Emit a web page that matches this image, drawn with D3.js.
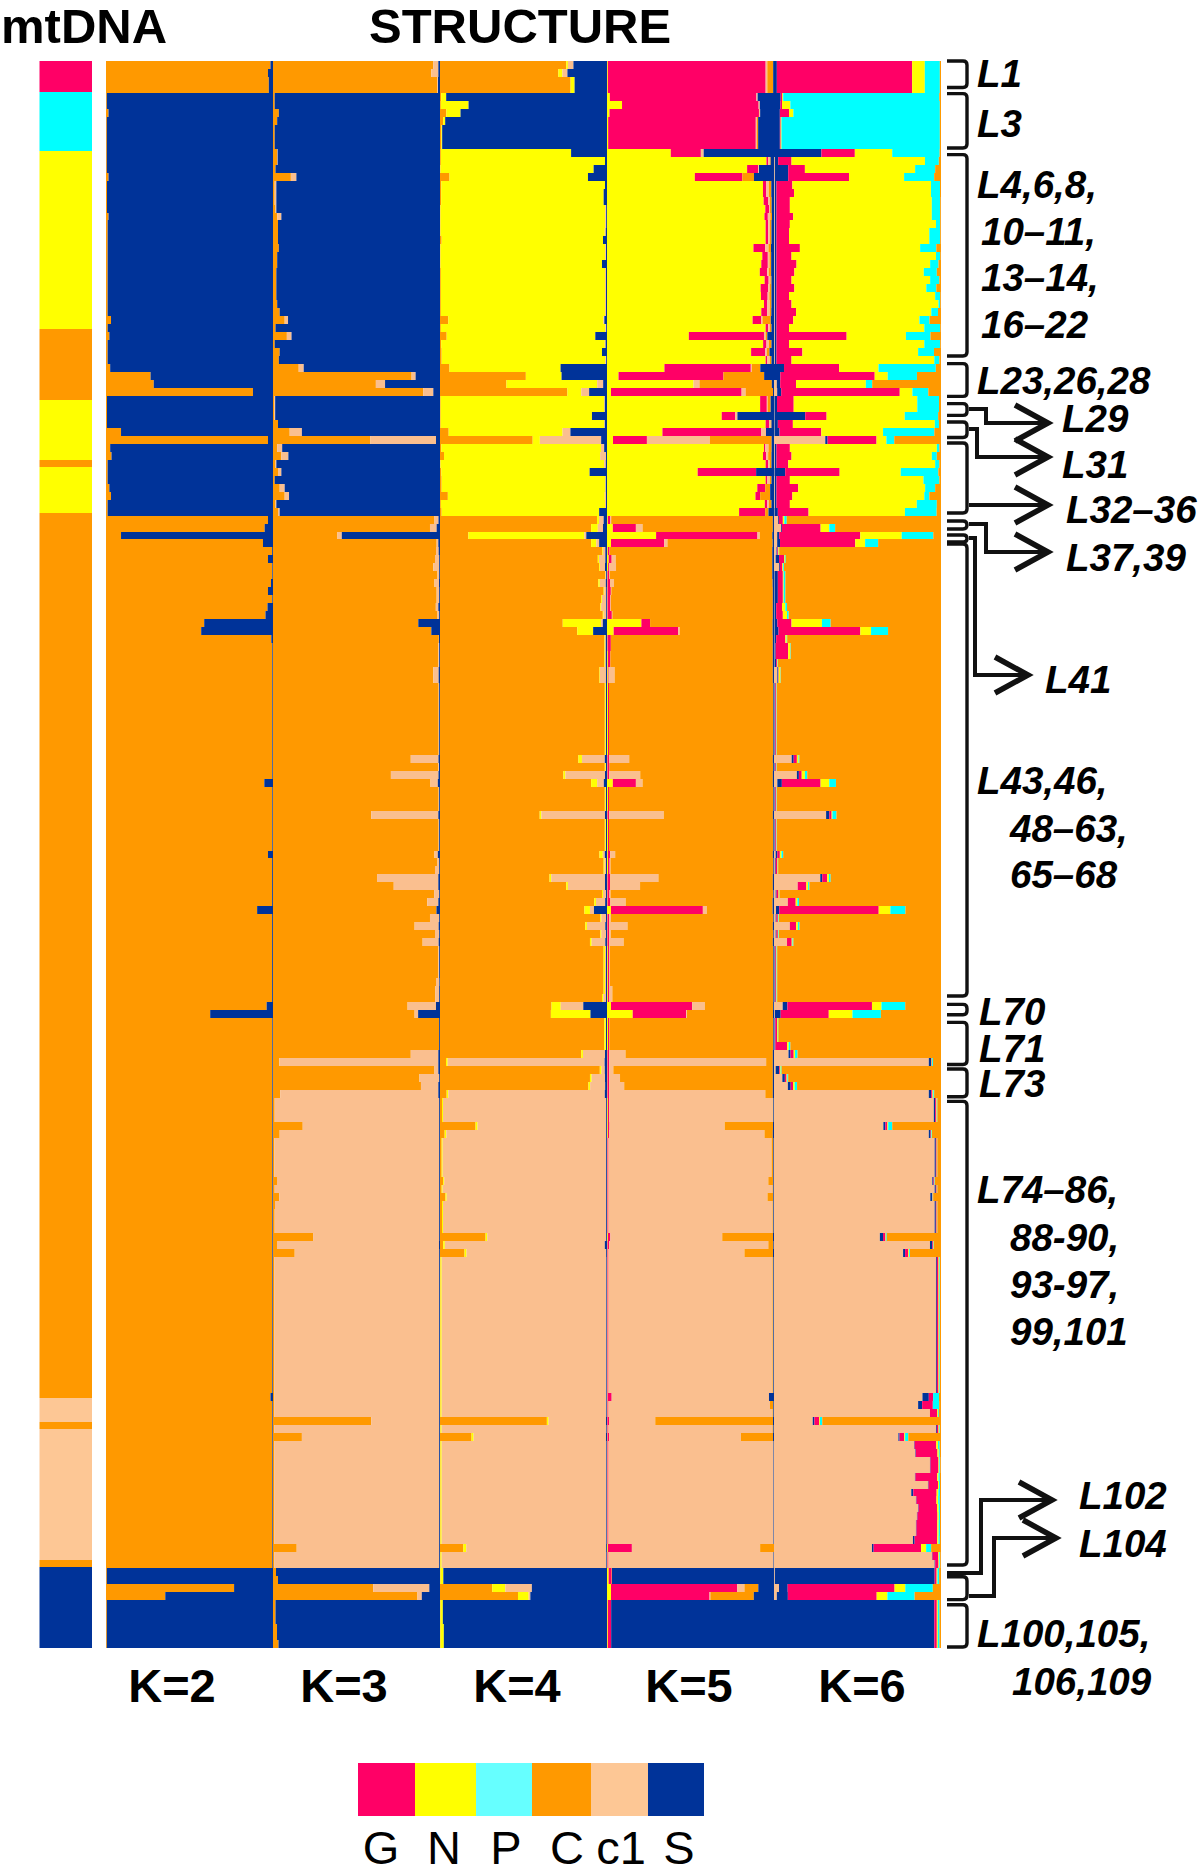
<!DOCTYPE html>
<html><head><meta charset="utf-8"><style>
html,body{margin:0;padding:0;background:#fff}
text{font-family:"Liberation Sans",Arial,sans-serif;fill:#000}
</style><script src="https://cdnjs.cloudflare.com/ajax/libs/d3/7.8.5/d3.min.js"></script></head><body>
<svg id="c" width="1200" height="1875"></svg>
<script>
const clusterColor = {G:"#ff0066",N:"#ffff00",P:"#00ffff",C:"#ff9900",c1:"#fabf8f",S:"#003399"};
const legendKeys = ["G","N","P","C","c1","S"];
const legendColor = ["#ff0066","#ffff00","#66ffff","#ff9900","#fdc795","#003399"];
const panelNames = ["K=2","K=3","K=4","K=5","K=6"];
// run-length rows: [row count, then share of each cluster]
const mtDNA = [["G",3.9],["P",7.4],["N",22.3],["C",8.9],["N",7.5],["C",.9],["N",5.8],["C",111],["c1",3],["C",.9],["c1",16.4],["C",.9],["S",10.1]];
const orderK2 = ["C","S"];
const rowsK2 = [[1,98.5,1.5],[1,97,3],[2,97.5,2.5],[2,.5,99.5],[1,1.5,98.5],[7,.5,99.5],[1,1.5,98.5],[4,.6,99.4],[1,1.5,98.5],[12,1,99],[1,3,97],[1,1,99],[1,2,98],[3,1,99],[1,2.5,97.5],[1,26.7,73.3],[1,28.6,71.4],[1,88,12],[4,.6,99.4],[1,9,91],[1,97,3],[1,2.5,97.5],[1,3.3,96.7],[3,1,99],[1,2,98],[1,3,97],[2,1,99],
[1,97,3],[1,95,5],[1,9,91],[1,94,6],[1,99.5,.5],[1,97,3],[2,99.6,.4],[1,98.8,1.2],[1,97,3],[1,99.6,.4],[1,96.7,3.3],[1,95.5,4.5],[1,58.8,41.2],[1,57,43],[1,99,1],[17,99.6,.4],[1,94.8,5.2],[8,99.6,.4],[1,97,3],[6,99.5,.5],[1,90.5,9.5],[11,99.5,.5],[1,96.2,3.8],[1,62.4,37.6],[47,99.6,.4],[1,98.5,1.5],[21,99.6,.4],[2,.5,99.5],[1,76.7,23.3],[1,35.5,64.5],[6,.5,99.5]];
const orderK3 = ["C","c1","S"];
const rowsK3 = [[1,96,3,1],[1,94.8,4.2,1],[2,98.3,.5,1.2],[2,1,0,99],[1,3.5,0,96.5],[1,2.5,0,97.5],[3,1,0,99],[2,2.5,.3,97.2],[1,1.5,0,98.5],[1,10.7,3.3,86],[3,1,1,98],[1,1.5,.5,98],[1,2.5,2.5,95],[3,3,0,97],[1,3.5,0,96.5],[2,2.5,0,97.5],[4,2,0,98],[1,2.5,0,97.5],[1,4,0,96],[1,7,2,91],[1,1.5,0,98.5],[1,8.3,2.8,88.9],[1,1,0,99],[1,4,0,96],[1,3.5,0,96.5],[1,15.4,3,81.6],[1,83,2.4,14.6],[1,61.6,5.5,32.9],[1,90,6,4],[3,.8,.5,98.7],[1,3,0,97],[1,10,7.3,82.7],[1,58.3,39.3,2.4],[1,2.5,3,94.5],[1,5,4.2,90.8],[1,1.5,.5,98],[1,3,2,95],[1,1,0,99],[1,4,3,93],[1,7,2.6,90.4],[1,1.5,.5,98],[1,3,1,96],
[1,96.7,2.4,.9],[1,94,4,2],[1,38.6,2.6,58.8],[1,98,1,1],[1,97.6,1.6,.8],[1,97,2.5,.5],[1,96,3.5,.5],[1,98.5,1,.5],[1,96.7,2.7,.6],[1,98,1.5,.5],[1,98,1.5,.5],[1,97.5,1.5,1],[1,98.5,1,.5],[1,87,0,13],[1,94.8,0,5.2],[1,99.3,.1,.6],[3,99,.5,.5],[2,96,3.2,.8],[9,99.2,.3,.5],[1,82.5,16.6,.9],[1,99,.4,.6],[1,70.6,28.5,.9],[1,94.3,4.4,1.3],[3,99.2,.3,.5],[1,58.8,40.2,1],[4,99.2,.3,.5],[1,96.7,2,1.3],[1,98.5,1,.5],[1,97,2.5,.5],[1,62.3,36.7,1],[1,72.3,26.7,1],[1,96.5,3,.5],[1,92.4,6.6,1],[1,97.9,0,2.1],[1,94,5.5,.5],[1,84.8,14.4,.8],[1,97,2.5,.5],[1,89.6,9.6,.8],[4,99,.5,.5],[1,97.6,2,.4],[2,97.2,2.3,.5],[1,80.6,17,2.4],[1,84.8,2.1,13.1],[4,99.5,0,.5],[1,82.5,16.5,1],[1,3.8,95.2,1],[1,96.7,2.3,1],[1,87.7,11.8,.5],[1,88.6,10.4,1],[1,4.3,94.7,1],
[3,1,98.5,.5],[1,17.8,81.7,.5],[1,4,95.5,.5],[5,.8,98.7,.5],[1,2.4,97.1,.5],[1,1,98.5,.5],[1,3.7,95.8,.5],[1,1.2,98.3,.5],[3,1,98.5,.5],[1,24,75.5,.5],[1,2.4,97,.6],[1,13,86.5,.5],[20,.7,98.8,.5],[1,58.8,40.7,.5],[1,.7,98.8,.5],[1,17.3,82.2,.5],[13,.7,98.8,.5],[1,14.2,85.3,.5],[2,.7,98.8,.5],[1,1.8,0,98.2],[1,3,0,97],[1,60,33.6,6.4],[1,86.5,2.6,10.9],[3,1.5,0,98.5],[2,2.4,0,97.6],[1,3.3,0,96.7]];
const orderK4 = ["C","N","c1","S"];
const rowsK4 = [[1,75.6,1,3.3,20.1],[1,70.9,2.4,3,23.7],[2,78.2,2.4,0,19.4],[1,.7,3,0,96.3],[1,.5,16.6,0,82.9],[1,3.8,8.5,0,87.7],[1,1.9,1.2,0,96.9],[3,.8,.5,0,98.7],[1,.5,78,0,21.5],[1,.5,98.3,0,1.2],[1,.3,91.7,0,8],[1,5.7,82.9,0,11.4],[1,.8,98,0,1.2],[2,.7,97.3,0,2],[3,.3,98.6,.6,.5],[1,.3,98.4,.6,.7],[1,1,96.6,0,2.4],[2,.3,98.6,.5,.6],[1,.3,96.7,0,3],[6,.5,98.3,.6,.6],[1,5,92.9,.5,1.6],[1,.5,98.5,.5,.5],[1,4,89,0,7],[1,.7,98,.5,.8],[1,1,96,0,3],[1,1,98,.5,.5],[1,5.7,66.5,0,27.8],[1,51.4,21.4,0,27.2],[1,39.8,54.3,3.6,2.3],[1,76.3,8.3,4.7,10.7],[2,.4,98,.3,1.3],[1,.4,90.6,0,9],[1,.4,98,.3,1.3],[1,5.2,68.2,4.7,21.9],[1,55.5,4.3,36.7,3.5],[1,.8,95.6,1.9,1.7],[1,2.4,93.5,3.5,.6],[1,.3,98,1,.7],[1,.8,88.8,0,10.4],[2,1,98,.3,.7],[1,4.7,94,.7,.6],[1,.5,98.3,.6,.6],[1,1,94.3,0,4.7],
[1,94,1.2,2.8,2],[1,90.5,4,3.1,2.4],[1,17,69.4,1.2,12.4],[1,90.5,3.1,1.7,4.7],[1,97,.5,1.5,1],[1,94.5,.7,3.8,1],[1,95.3,.5,3,1.2],[1,99,.2,.3,.5],[1,94.8,.9,3.6,.7],[1,98,.5,1,.5],[1,96.5,.5,2.5,.5],[1,96,.5,3,.5],[1,97.5,.5,1.5,.5],[1,73.5,23,1,2.5],[1,82.2,9.5,0,8.3],[3,98.5,.5,.3,.7],[1,98.5,.5,.3,.7],[2,95.5,.3,3.6,.6],[9,98.7,.6,.1,.6],[1,82.9,2.1,13.7,1.3],[1,98.7,.6,.1,.6],[1,73.9,1.2,23.7,1.2],[1,90.5,3.6,4,1.9],[3,98.7,.6,.1,.6],[1,59.7,1,38.1,1.2],[4,98.7,.6,.1,.6],[1,95.5,2,1.2,1.3],[2,98,.6,.8,.6],[1,65.6,1,32.2,1.2],[1,75.6,1,22.2,1.2],[1,97,.6,1.8,.6],[1,92.4,1,5.5,1.1],[1,86.5,3.3,2.4,7.8],[1,96,.6,2.8,.6],[1,87,1,11,1],[1,96,.6,2.8,.6],[1,89.8,1,8.2,1],[6,98,.8,.6,.6],[1,97,.8,1.6,.6],[1,66.8,5.5,13.5,14.2],[1,66.4,23.7,0,9.9],[4,98.3,1,.1,.6],[1,84.6,1,13.2,1.2],[1,3.6,1,94,1.4],[1,95.7,1,2,1.3],[1,89.8,1,8,1.2],[1,88.9,1,9,1.1],[1,4,1,93.7,1.3],
[3,1.2,.6,97.7,.5],[1,21.3,1.2,77,.5],[1,2.8,1,95.7,.5],[5,1,.6,97.9,.5],[1,1.9,.6,97,.5],[1,1,.6,97.9,.5],[1,3.3,.7,95.5,.5],[4,1.2,.6,97.7,.5],[1,27.3,1,71.2,.5],[1,1.9,1,95.8,1.3],[1,14.7,1.2,83.6,.5],[20,.3,.7,98.6,.4],[1,64,1,34.4,.6],[1,.3,.7,98.6,.4],[1,18.9,1.2,79.3,.6],[13,.3,.7,98.6,.4],[1,14,1.7,83.8,.5],[2,.3,.7,98.6,.4],[2,.3,1.7,0,98],[1,31.3,7.8,15.9,45],[1,46.7,6.4,1,45.9],[3,.3,1.4,0,98.3],[3,.3,2,0,97.7]];
const orderK5 = ["N","G","c1","C","S"];
const rowsK5 = [[4,.5,94.5,1,3.5,.5],[1,1.7,87.8,.7,0,9.8],[1,9,81.8,.7,0,8.5],[1,1.5,89.5,.7,0,8.3],[4,.7,88.4,.7,.7,9.5],[1,38.2,18,1.7,0,42.1],[1,95.5,1,1,.5,2],[1,83.9,6.6,.5,0,9],[1,52.6,28.4,0,7,12],[2,93.4,2,1.5,1.5,1.6],[1,93.8,2.8,1,1,1.4],[1,94.8,2.3,.5,1,1.4],[1,94.3,2,1.5,1,1.2],[3,95,1.5,1,1,1.5],[1,87.7,7,2,1.5,1.8],[1,93,3.3,1,1,1.7],[1,92.4,3.9,1,1,1.7],[1,91.5,4.4,1,1.4,1.7],[1,94.4,2.4,1,.7,1.5],[1,92,4.5,1,1,1.5],[1,92.2,4,1,1.3,1.5],[1,94,2,1.5,1,1.5],[1,92.4,3.5,1.5,1,1.6],[1,87.2,5.2,.7,5,1.9],[1,95,1.5,1,1,1.5],[1,49,45,1,1,4],[1,93.5,2,1.5,1.5,1.5],[1,86.3,8.5,1,1.5,2.7],[1,95,1,1.5,1,1.5],[1,34.4,51.7,.7,5,8.2],[1,6.9,62.8,0,24.4,5.9],[1,51.8,0,3.6,43.3,1.3],[1,2.4,78.2,2.4,16.4,.6],[2,91.7,4,.5,1.8,2],[1,68.7,8,1.4,0,21.9],[1,95,2,1,.5,1.5],[1,33.2,59.2,2.8,0,4.8],[1,3.6,20.3,37.7,37,1.4],[1,94,.8,1.9,1.9,1.4],[1,93.4,1.9,1.2,2,1.5],[1,95,1.5,1,1,1.5],[1,54.3,35,0,0,10.7],[1,95,1,1.5,1,1.5],[1,90,4.7,0,3,2.3],[1,88.9,2.8,0,6,2.3],[1,94.5,1.5,1,1.5,1.5],[1,79.1,15.6,0,2,3.3],
[1,.5,1.5,.5,96.8,.7],[1,3.5,13.8,4,78,.7],[1,29.4,60.7,1.4,7.5,1],[1,2.4,31.9,1.9,63,.8],[1,.5,1,0,97.5,1],[1,1,1.8,2.4,93.8,1],[1,.7,.7,4,93.6,1],[1,.3,1,.3,97.4,1],[1,.3,1.5,2.4,95,.8],[1,.3,2,.3,96.7,.7],[2,.3,1.7,.3,97,.7],[1,.3,2.6,.3,96.1,.7],[1,20.6,5.2,0,73.4,.8],[1,4,38.6,1,55.6,.8],[2,.3,2,0,97,.7],[2,.5,1.5,0,97.3,.7],[2,.5,.5,3.6,95,.7],[9,.6,.6,0,98.4,.4],[1,.3,1,12,86,.7],[1,.3,1.2,0,98,.5],[1,.3,1,18.6,79.4,.7],[1,3.5,13.8,4,78,.7],[3,.6,.6,0,98.4,.4],[1,.3,1,32.7,65.3,.7],[4,.6,.6,0,98.4,.4],[1,.5,1.4,3,94.4,.7],[2,.6,1,.5,97.5,.4],[1,.3,1.5,29,68.5,.7],[1,.3,1.5,18,79.5,.7],[1,.3,1.2,.6,97.5,.4],[1,.3,1.5,9.4,88,.8],[1,2.4,55,2.4,39.4,.8],[1,.3,1,1,97.3,.4],[1,.3,1,11,87,.7],[1,.3,1,1,97.3,.4],[1,.3,1,8.7,89.3,.7],[5,.5,.7,.6,97.8,.4],[2,.5,.7,2,96.4,.4],[1,2.4,48.6,7.6,40.9,.5],[1,15.4,32,.5,51.5,.6],[4,.6,.6,.2,98.2,.4],[1,.3,1,9.8,88.2,.7],[1,.3,1,94,4,.7],[1,.3,1,2.5,95.5,.7],[1,.3,1,6.5,91.5,.7],[1,.3,1,9,89,.7],[1,.3,1,93.5,4.5,.7],
[3,.5,.8,98,.3,.4],[1,.5,1,69.4,29.1,.6],[1,.5,.8,93,5,.7],[5,.3,.6,97.7,1,.4],[1,.3,.6,95.7,3,.4],[1,.3,.6,98.2,.5,.4],[1,.3,.6,95.2,3.5,.4],[4,.3,.6,98.2,.5,.4],[1,.5,1.5,67,30.4,.6],[1,.3,1,95.3,3,.4],[1,.3,.6,81.9,17.2,.6],[17,.3,.6,98.2,.5,.4],[1,.3,2.5,94.2,0,3],[1,.3,.6,96.7,2,.4],[1,.3,.6,98.2,.5,.4],[1,.2,1,27.7,70.5,.6],[1,.3,.6,98.2,.5,.4],[1,.3,1,78.9,19.2,.6],[13,.3,.6,98.7,.1,.3],[1,.5,14.4,76.8,8.3,0],[2,.3,.6,98.7,.1,.3],[2,1,1.8,0,.2,97],[1,2.4,75.6,4.3,8.3,9.4],[1,2.4,59,.5,26,12.1],[6,.5,2,0,0,97.5]];
const orderK6 = ["c1","S","G","N","P","C"];
const rowsK6 = [[4,0,1.7,81,7.6,9,.7],[1,0,4,1,.5,93.5,1],[1,0,3.8,1,5,89.5,.7],[1,0,3.5,5.5,2.6,87.7,.7],[4,0,3.5,.5,.5,94.8,.7],[1,0,28.4,20,22.4,28.4,.8],[1,.5,2,8,79.9,8.3,1.3],[1,.5,8,10,66,12,3.5],[1,.5,8,36.4,33,18,4.1],[1,.5,1,9.5,83,5.4,.6],[1,.5,1,10.5,82,5.4,.6],[2,.5,1,8,85,5,.5],[1,.5,1,10,83,5,.5],[1,.5,1,8,87.5,2.5,.5],[2,.5,1,7.5,84,6.5,.5],[1,.5,1,14,72,9.7,2.8],[1,.5,1,9,86.5,2.5,.5],[1,.5,1,12,80,5,1.5],[1,.5,1,10.7,77.5,7.8,2.5],[1,.5,1,9,83,5.5,1],[1,.5,1,10.7,79,6,2.8],[1,.5,1,7.5,87.5,3,.5],[1,.5,1,9,88,1,.5],[1,.5,1,11.7,81,4,1.8],[1,.5,1,10,75.6,6,6.9],[1,.5,1,7.5,81,9.5,.5],[1,.5,1,42,35.5,14.7,6.3],[1,.5,1,7.5,81,9.5,.5],[1,.5,1,15.5,69.3,9.5,4.2],[1,.5,1,9,85.5,3,1],[1,0,6,33,23.6,34.3,3.1],[1,0,3.8,56.5,7.8,17.5,14.4],[1,1.7,2,9.5,41.8,3.8,41.2],[1,1.9,2.4,71,7.6,9.5,7.6],[2,.3,1.5,10,74,13,1.2],[1,.3,18.4,12.8,46.8,20,1.7],[1,.3,2,9,85,2.5,1.2],[1,.3,3,25,37,30.7,4],[1,30.7,1.4,29.3,5.9,4.7,28],[1,.5,1,8,88,1.5,1],[1,.5,1,9,84,3,2.5],[1,.5,1,7,88,2.5,1],[1,.3,6.4,32.6,36.6,22.5,1.6],[1,.5,1,8,80,9.5,1],[1,.5,1,13,76,6,3.5],[1,.5,1,9.5,79,3,7],[1,.5,1,8,76,12,2.5],[1,.3,2,18.4,57.7,19,2.6],
[1,2.4,.5,2.4,.9,1.4,92.4],[1,4.2,.5,23.2,5.2,3.5,63.4],[1,1.9,1.2,48.5,24.8,18.9,4.6],[1,1.9,1.7,45,5.9,7.8,37.6],[1,1.5,.5,.5,.4,.2,96.9],[1,1,2,3,.5,.5,93],[1,3,.5,1.5,.5,.5,94],[4,.3,2,3,.5,1,93.2],[1,.3,1,3.5,2,1,92.2],[1,.3,1,4,2.5,1,91.2],[1,.3,1.7,8.5,18.2,5.2,66.1],[1,.3,2.4,49,6.4,10.2,31.7],[1,.3,1,5.5,.8,.3,92.1],[2,.3,.7,7.5,1.2,.3,90],[1,.3,1,.5,.3,.2,97.7],[2,2,.5,.3,1,.2,96],[9,.3,.5,.5,.2,.2,98.3],[1,10.6,1.2,1.9,1,.5,84.8],[1,.3,.5,.5,.2,.2,98.3],[1,13.7,1.2,1.7,1.9,1.4,80.1],[1,2,2.7,23.2,5.2,4,62.9],[3,.3,.5,.5,.2,.2,98.3],[1,31.2,1.9,1.4,.5,2.4,62.6],[4,.3,.5,.5,.2,.2,98.3],[1,1,1,1.5,1,1,94.5],[2,.5,.5,1,.3,.2,97.5],[1,27.7,1.2,3,1,1,66.1],[1,14.2,0,5.2,1,.8,78.8],[1,1,.5,1.2,.4,.2,96.7],[1,8.3,0,4.7,1,1,85],[1,1.2,1.9,59.6,7,9,21.3],[1,1,.5,.8,.4,.3,97],[1,9.5,0,3.8,1,1,84.7],[1,1,.5,.8,.4,.3,97],[1,7.8,0,2.8,.5,.5,88.4],[7,.3,.5,.5,.3,.3,98.1],[1,5.2,2.8,50.6,5.7,14.2,21.4],[1,.5,3.5,28.8,14.2,17,36],[3,.3,.5,1,.5,.3,97.4],[1,.3,.5,7,1,1,90.2],[1,8.7,1.2,1.9,.8,1.5,85.9],[1,92.7,1.4,.3,.3,.5,4.8],[1,1,2,.5,.5,.5,95.5],[1,5,1.5,1,.5,.5,91.5],[1,8.3,1.7,1.4,1,1.4,86.2],[1,92.7,1.4,.8,.5,.5,4.1],
[3,95.7,.8,.7,.3,.3,2.2],[1,65.5,1.2,1.2,.5,2.4,29.2],[1,92.7,1,.3,.3,.3,5.4],[5,96.2,.7,.5,.2,.2,2.2],[1,94.8,.7,.5,.2,.2,3.6],[1,96.2,.7,.5,.2,.2,2.2],[1,93.6,1,.3,.2,.2,4.7],[4,96.2,.7,.5,.2,.2,2.2],[1,63.4,1.9,1.4,.3,.5,32.5],[1,93.4,1.4,.5,.2,.2,4.3],[1,77.3,1.2,1.9,.5,.5,18.6],[17,97,.5,1,.4,.4,.7],[1,88.9,3.8,2.6,0,3.5,1.2],[1,86.3,2.4,6.4,0,3.8,1.1],[1,93.4,0,4.3,.5,.5,1.3],[1,23.2,1,2.8,.5,1.4,71.1],[1,97,.5,1,.4,.4,.7],[1,74.5,.7,2.8,.5,1.9,19.6],
[1,83.9,.3,13,1,1,.8],[1,84.6,.3,13,.8,.6,.7],[2,93.4,.3,4.8,.5,.5,.5],[1,84.4,.3,13,.8,.8,.7],[1,92.2,.3,5.7,.6,.6,.6],[1,82.2,1.2,14,1,1,.6],[1,85,.3,12,1,1,.7],[1,86.3,.3,11,1,.8,.6],[1,85.6,.3,12,.8,.7,.6],[2,85,.3,12.5,.8,.8,.6],[1,83.2,1,13.5,.8,.8,.7],[1,58.6,1,28.4,3,3,5.9],[1,94.6,.3,3.5,.6,.5,.5],[1,96.2,.3,2,.5,.5,.5],[2,.5,95.7,1.2,.5,1,1.1],[1,3,5.2,64,6.4,16.5,4.9],[1,1.7,6.6,53.2,6.4,16.3,15.8],[6,0,96,1.5,.6,1,.9]];
const panels = [[orderK2,rowsK2],[orderK3,rowsK3],[orderK4,rowsK4],[orderK5,rowsK5],[orderK6,rowsK6]];
const rowCount = 199;
const svg = d3.select("#c");
const y = d3.scaleLinear().domain([0,rowCount]).rangeRound([61,1648]);
const band = d3.scaleBand().domain(panelNames).range([106,941]);
const w = d3.scaleLinear().domain([0,1]).range([0,band.bandwidth()]);
const counts=[];
panels.forEach(([order,runs],pi)=>{
  const rows = runs.flatMap(r=>d3.range(r[0]).map(()=>r.slice(1)));
  counts.push(rows.length);
  const stack = d3.stack().keys(order.map((_,i)=>i)).offset(d3.stackOffsetExpand)(rows);
  const g = svg.append("g").attr("transform",`translate(${band(panelNames[pi])},0)`);
  stack.forEach((layer,i)=>{
    g.append("g").attr("fill",clusterColor[order[i]]).selectAll("rect").data(layer).join("rect")
      .attr("x",d=>w(d[0])).attr("width",d=>Math.max(0,w(d[1])-w(d[0])))
      .attr("y",(d,j)=>y(j)).attr("height",(d,j)=>y(j+1)-y(j));
  });
});
// mtDNA column
let acc=0; const mtRows = mtDNA.map(([k,n])=>{const r={k,a:acc,b:acc+n};acc+=n;return r;});
svg.append("g").selectAll("rect").data(mtRows).join("rect").attr("x",39.5).attr("width",52.5)
  .attr("y",d=>y(d.a)).attr("height",d=>y(d.b)-y(d.a))
  .attr("fill",d=>d.k==="c1"?"#fdc795":clusterColor[d.k]);
// titles
svg.append("text").text("mtDNA").attr("x",1).attr("y",43).attr("font-size",49).attr("font-weight",700);
svg.append("text").text("STRUCTURE").attr("x",369).attr("y",43).attr("font-size",49).attr("font-weight",700);
const kCentres=[172,344,517,689,862];
svg.append("g").selectAll("text").data(panelNames).join("text").text(d=>d)
  .attr("x",(d,i)=>kCentres[i]).attr("y",1702).attr("text-anchor","middle").attr("font-size",47).attr("font-weight",700);
// legend
const lx=[358,415,476,532,591,648,704], ltx=[381,444,506,567,621,679];
svg.append("g").selectAll("rect").data(legendKeys).join("rect").attr("x",(d,i)=>lx[i]).attr("width",(d,i)=>lx[i+1]-lx[i])
  .attr("y",1763).attr("height",53).attr("fill",(d,i)=>legendColor[i]);
svg.append("g").selectAll("text").data(legendKeys).join("text").text(d=>d).attr("x",(d,i)=>ltx[i]).attr("y",1864)
  .attr("text-anchor","middle").attr("font-size",47);
// right-hand locus labels
const labelText = [["L1",977,87],["L3",977,137],["L4,6,8,",977,198],["10–11,",981,245],["13–14,",981,291],["16–22",981,338],["L23,26,28",977,394],["L29",1062,432],["L31",1062,478],["L32–36",1066,523],["L37,39",1066,571],["L41",1045,693],["L43,46,",977,794],["48–63,",1010,842],["65–68",1010,888],["L70",979,1025],["L71",979,1062],["L73",979,1097],["L74–86,",977,1203],["88-90,",1010,1251],["93-97,",1010,1298],["99,101",1010,1345],["L102",1079,1509],["L104",1079,1557],["L100,105,",977,1647],["106,109",1012,1695]];
svg.append("g").selectAll("text").data(labelText).join("text").text(d=>d[0]).attr("x",d=>d[1]).attr("y",d=>d[2])
  .attr("font-size",38.5).attr("font-weight",700).attr("font-style","italic");
// brackets
const brackets = [[61,87.5],[93.6,148],[154.6,356],[363.6,396.4],[403.6,415.4],[422,437.5],[443,513],[521,529],[535,542],[544,996],[1004.4,1014.7],[1022.4,1064.5],[1069,1096.7],[1101.4,1565],[1576.7,1599.6],[1604.8,1647]];
const ink="#111";
svg.append("g").selectAll("path").data(brackets).join("path").attr("fill","none").attr("stroke",ink).attr("stroke-width",3.4)
  .attr("d",([a,b])=>{const r=Math.min(4,(b-a)/2);return `M947,${a}H${967-r}Q967,${a} 967,${a+r}V${b-r}Q967,${b} ${967-r},${b}H947`;});
// connector lines with open arrow heads
const connectors = [
  {pts:[[969,409],[986,409],[986,423],[1048,423]],back:33,wing:18},
  {pts:[[969,429],[977,429],[977,457],[1048,457]],back:33,wing:18},
  {pts:[[969,505],[1048,505]],back:33,wing:18},
  {pts:[[969,524],[986,524],[986,552],[1048,552]],back:33,wing:18},
  {pts:[[969,538],[975,538],[975,675],[1028,675]],back:33,wing:18},
  {pts:[[947,1573],[981,1573],[981,1500],[1052,1500]],back:33,wing:18},
  {pts:[[969,1596],[994,1596],[994,1538],[1056,1538]],back:33,wing:18}];
const line=d3.line();
svg.append("g").selectAll("path").data(connectors).join("path").attr("fill","none").attr("stroke",ink).attr("stroke-width",4).attr("d",d=>line(d.pts));
svg.append("g").selectAll("path").data(connectors).join("path").attr("fill","none").attr("stroke",ink).attr("stroke-width",5.5).attr("d",d=>{
  const [tx,ty]=d.pts[d.pts.length-1];return line([[tx-d.back,ty-d.wing],[tx,ty],[tx-d.back,ty+d.wing]]);});
if(counts.some(c=>c!==rowCount)) throw new Error("row counts "+counts.join(","));
</script></body></html>
